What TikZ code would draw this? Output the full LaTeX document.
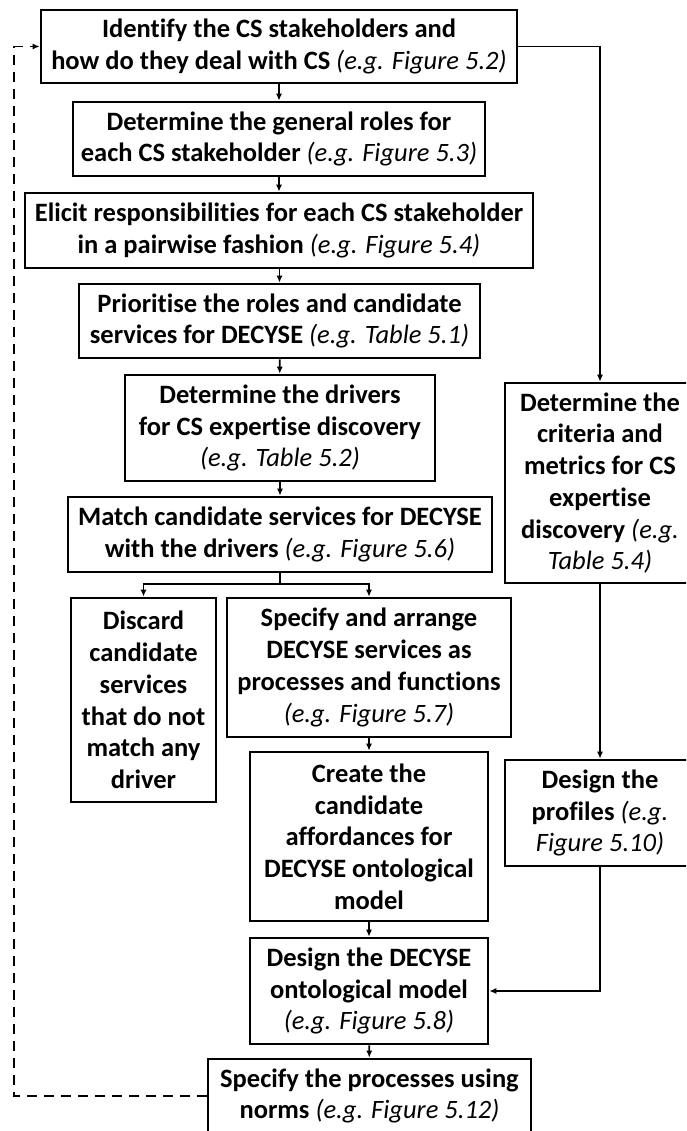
\documentclass[tikz,border=0pt]{standalone}
\usepackage{fontspec}
\setmainfont{Carlito}[Ligatures=NoCommon]
\usetikzlibrary{arrows.meta}
% example references are set upright-weight italic
\newcommand\egref[1]{{\mdseries\itshape #1}}

\begin{document}
\begin{tikzpicture}[x=1pt,y=-1pt,
  box/.style={draw, line width=2.6pt, align=center, inner sep=0pt,
    font=\fontsize{26.5}{31.7}\selectfont\bfseries},
  wire/.style={line width=1.8pt},
  link/.style={wire, -{Latex[length=7pt,width=6pt]}},
  loopback/.style={link, dash pattern=on 10pt off 7pt}]
\useasboundingbox (0,0) rectangle (686,1131);
\clip (0,0) rectangle (686,1131);

% main column
\node[box, minimum width=476pt, minimum height=73pt] (b1) at (279,46.5)
  {Identify the CS stakeholders and\\how do they deal with CS \egref{(e.g. Figure 5.2)}};
\node[box, minimum width=412pt, minimum height=74pt] (b2) at (279,139)
  {Determine the general roles for\\each CS stakeholder \egref{(e.g. Figure 5.3)}};
\node[box, minimum width=508pt, minimum height=75pt] (b3) at (279,230.5)
  {Elicit responsibilities for each CS stakeholder\\in a pairwise fashion \egref{(e.g. Figure 5.4)}};
\node[box, minimum width=401pt, minimum height=74pt] (b4) at (279.5,321)
  {Prioritise the roles and candidate\\services for DECYSE \egref{(e.g. Table 5.1)}};
\node[box, minimum width=310pt, minimum height=106pt] (b5) at (280,428)
  {Determine the drivers\\for CS expertise discovery\\\egref{(e.g. Table 5.2)}};
\node[box, minimum width=424pt, minimum height=75pt] (b6) at (280,534.5)
  {Match candidate services for DECYSE\\with the drivers \egref{(e.g. Figure 5.6)}};
\node[box, minimum width=145pt, minimum height=204pt] (b7) at (143.5,700)
  {Discard\\candidate\\services\\that do not\\match any\\driver};
\node[box, minimum width=284pt, minimum height=139pt] (b8) at (369,667.5)
  {Specify and arrange\\DECYSE services as\\processes and functions\\\egref{(e.g. Figure 5.7)}};
\node[box, minimum width=238pt, minimum height=169pt] (b9) at (369,836.5)
  {Create the\\candidate\\affordances for\\DECYSE ontological\\model};
\node[box, minimum width=238pt, minimum height=106pt] (b10) at (369,991)
  {Design the DECYSE\\ontological model\\\egref{(e.g. Figure 5.8)}};
\node[box, minimum width=323pt, minimum height=74pt] (b11) at (369.5,1096)
  {Specify the processes using\\norms \egref{(e.g. Figure 5.12)}};

% side column
\node[box, minimum width=190pt, minimum height=200pt] (c1) at (600,483)
  {Determine the\\criteria and\\metrics for CS\\expertise\\discovery \egref{(e.g.}\\\egref{Table 5.4)}};
\node[box, minimum width=190pt, minimum height=106pt] (c2) at (600,813)
  {Design the\\profiles \egref{(e.g.}\\\egref{Figure 5.10)}};

% main flow
\draw[link] (b1) -- (b2);
\draw[link] (b2) -- (b3);
\draw[link] (b3.south -| b4.north) -- (b4.north);
\draw[link] (b4) -- (b5);
\draw[link] (b5) -- (b6);
\coordinate (fork) at (280,584);
\draw[wire] (b6.south) -- (fork);
\draw[link] (fork) -| (b7.north);
\draw[link] (fork) -| (b8.north);
\draw[link] (b8) -- (b9);
\draw[link] (b9) -- (b10);
\draw[link] (b10) -- (b11);

% side flow
\draw[link] (b1.east) -| (c1.north);
\draw[link] (c1) -- (c2);
\draw[link] (c2.south) |- (b10.east);

% iteration back to the start
\coordinate (back) at (14,1096);
\draw[loopback] (b11.west) -- (back) |- (b1.west);
\end{tikzpicture}
\end{document}
